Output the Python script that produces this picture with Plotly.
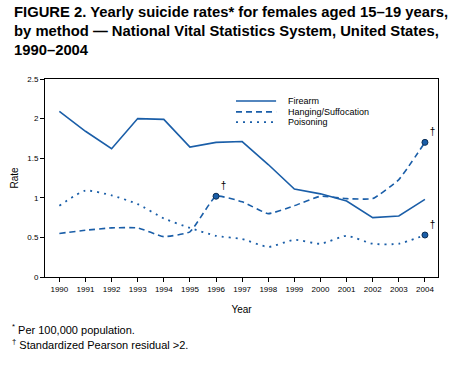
import plotly.graph_objects as go

years = list(range(1990, 2005))
firearm = [2.09, 1.84, 1.62, 2.00, 1.99, 1.64, 1.70, 1.71, 1.42, 1.11, 1.05, 0.96, 0.75, 0.77, 0.98]
hanging = [0.55, 0.59, 0.62, 0.62, 0.51, 0.57, 1.02, 0.95, 0.80, 0.90, 1.02, 0.99, 0.99, 1.23, 1.70]
poisoning = [0.90, 1.09, 1.03, 0.92, 0.74, 0.62, 0.52, 0.48, 0.38, 0.47, 0.42, 0.52, 0.42, 0.42, 0.53]

series_names = ["Firearm", "Hanging/Suffocation", "Poisoning"]

flag_years = [1996, 2004, 2004]
flag_values = [1.02, 1.70, 0.53]

blue = "#1a5ea8"
font = "Liberation Sans, Arial, sans-serif"
dashes = ["solid", "6px,4px", "2px,5px"]

fig = go.Figure()
fig.add_trace(go.Scatter(x=years, y=firearm, mode="lines", name=series_names[0],
                         line=dict(color=blue, width=1.6)))
fig.add_trace(go.Scatter(x=years, y=hanging, mode="lines", name=series_names[1],
                         line=dict(color=blue, width=1.6, dash=dashes[1], shape="spline", smoothing=0.4)))
fig.add_trace(go.Scatter(x=years, y=poisoning, mode="lines", name=series_names[2],
                         line=dict(color=blue, width=1.8, dash=dashes[2], shape="spline", smoothing=0.6)))
fig.add_trace(go.Scatter(x=flag_years, y=flag_values, mode="markers+text", showlegend=False,
                         marker=dict(color=blue, size=6, line=dict(color="#0d2f55", width=1)),
                         text=["†"] * len(flag_years), textposition="top right",
                         textfont=dict(family=font, size=10, color="#000")))

fig.update_layout(
    width=455, height=367,
    margin=dict(l=45, r=17, t=79, b=90),
    paper_bgcolor="white", plot_bgcolor="white",
    font=dict(family=font, color="#000"),
    showlegend=False,
    xaxis=dict(range=[1989.45, 2004.5], tickmode="array", tickvals=years,
               ticktext=[str(y) for y in years], tickfont=dict(size=8),
               ticks="outside", ticklen=4, tickcolor="#000",
               showline=True, linecolor="#000", linewidth=1, mirror=True,
               showgrid=False, zeroline=False,
               title=dict(text="Year", font=dict(size=10), standoff=13)),
    yaxis=dict(range=[0, 2.5], tickvals=[0, 0.5, 1, 1.5, 2, 2.5],
               ticktext=["0", "0.5", "1", "1.5", "2", "2.5"], tickfont=dict(size=8),
               ticks="outside", ticklen=4, tickcolor="#000",
               showline=True, linecolor="#000", linewidth=1, mirror=True,
               showgrid=False, zeroline=False,
               title=dict(text="Rate", font=dict(size=10), standoff=6)),
)

# manual legend (compact spacing as in reference)
leg_rows = [0.889, 0.834, 0.782]
for name, dash, yy in zip(series_names, dashes, leg_rows):
    fig.add_shape(type="line", xref="paper", yref="paper", x0=0.486, x1=0.588, y0=yy, y1=yy,
                  line=dict(color=blue, width=1.8 if dash == dashes[2] else 1.6, dash=dash))
    fig.add_annotation(xref="paper", yref="paper", x=0.613, y=yy, xanchor="left", yanchor="middle",
                       showarrow=False, text=name, font=dict(size=9, family=font, color="#000"))

fig.add_annotation(xref="paper", yref="paper", x=-0.085, y=1.0 + 77 / 198,
                   xanchor="left", yanchor="top", showarrow=False, align="left",
                   text="<b>FIGURE 2. Yearly suicide rates* for females aged 15–19 years,<br>"
                        "by method — National Vital Statistics System, United States,<br>"
                        "1990–2004</b>",
                   font=dict(size=14.8, family=font, color="#000"))
fig.add_annotation(xref="paper", yref="paper", x=-0.09, y=-0.215,
                   xanchor="left", yanchor="top", showarrow=False, align="left",
                   text="<sup>*</sup> Per 100,000 population.",
                   font=dict(size=11, family=font, color="#000"))
fig.add_annotation(xref="paper", yref="paper", x=-0.09, y=-0.295,
                   xanchor="left", yanchor="top", showarrow=False, align="left",
                   text="<sup>†</sup> Standardized Pearson residual >2.",
                   font=dict(size=11, family=font, color="#000"))

fig.write_html("out.html", config={"displayModeBar": False},
               post_script="document.body.style.margin='0';")
